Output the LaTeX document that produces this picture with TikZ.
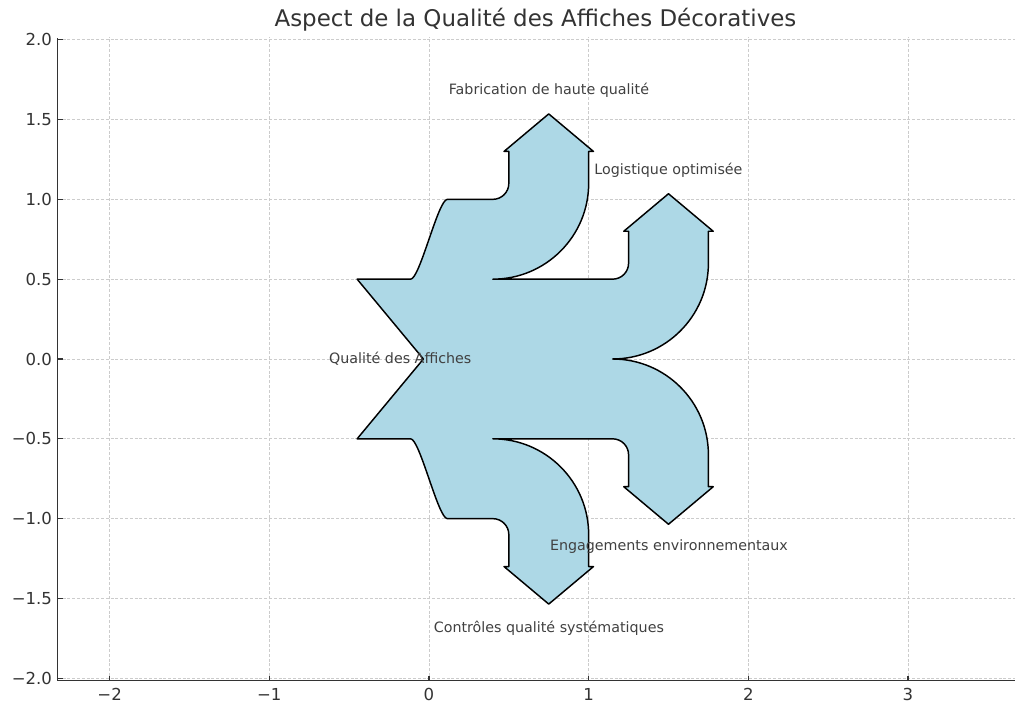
\documentclass[tikz,border=0pt]{standalone}
\usepackage{fontspec}
\setmainfont{DejaVu Sans}
\definecolor{flowfill}{HTML}{ADD8E6}
\definecolor{txtgray}{HTML}{404040}
\definecolor{tickgray}{HTML}{333333}
\definecolor{gridgray}{HTML}{CCCCCC}
\definecolor{spinegray}{HTML}{333333}
\tikzset{
  gridline/.style={draw=gridgray, line width=0.5pt, dash pattern=on 2.2pt off 1.4pt},
  spine/.style={draw=spinegray, line width=1pt},
  tickmark/.style={draw=spinegray, line width=0.8pt},
  ticklabel/.style={text=tickgray, font=\fontsize{12.4}{14}\selectfont, inner sep=0pt},
  flowlabel/.style={text=txtgray, font=\fontsize{10.7}{12}\selectfont, inner sep=0pt, anchor=center},
  titlelabel/.style={text=tickgray, font=\fontsize{17.2}{20}\selectfont, inner sep=0pt, anchor=base},
  flowshape/.style={fill=flowfill, draw=black, line width=1.1pt, line join=round}
}
\begin{document}
\begin{tikzpicture}[x=119.75pt, y=119.75pt]
\useasboundingbox (-2.6868,-2.2234) rectangle (3.7266,2.2484);
% grid
\foreach \gx in {-2,-1,0,1,2,3} {
  \draw[gridline] (\gx,-2.015) -- (\gx,2.015);
}
\foreach \gy in {-2,-1.5,-1,-0.5,0,0.5,1,1.5,2} {
  \draw[gridline] (-2.3246,\gy) -- (3.672,\gy);
}
% spines
\draw[spine] (-2.3246,2.01) -- (-2.3246,-2.015) -- (3.672,-2.015);
% ticks
\foreach \gx in {-2,-1,0,1,2,3} {
  \draw[tickmark] (\gx,-2.015) -- (\gx,-1.985);
}
\foreach \gy in {-2,-1.5,-1,-0.5,0,0.5,1,1.5,2} {
  \draw[tickmark] (-2.3246,\gy) -- (-2.2946,\gy);
}
% tick labels
\node[ticklabel, anchor=north] (xm2) at (-2,-2.06) {−2};
\node[ticklabel, anchor=north] (xm1) at (-1,-2.06) {−1};
\node[ticklabel, anchor=north] (x0) at (0,-2.06) {0};
\node[ticklabel, anchor=north] (x1) at (1,-2.06) {1};
\node[ticklabel, anchor=north] (x2) at (2,-2.06) {2};
\node[ticklabel, anchor=north] (x3) at (3,-2.06) {3};
\node[ticklabel, anchor=east] (y20) at (-2.36,2) {2.0};
\node[ticklabel, anchor=east] (y15) at (-2.36,1.5) {1.5};
\node[ticklabel, anchor=east] (y10) at (-2.36,1) {1.0};
\node[ticklabel, anchor=east] (y05) at (-2.36,0.5) {0.5};
\node[ticklabel, anchor=east] (y00) at (-2.36,0) {0.0};
\node[ticklabel, anchor=east] (ym05) at (-2.36,-0.5) {−0.5};
\node[ticklabel, anchor=east] (ym10) at (-2.36,-1) {−1.0};
\node[ticklabel, anchor=east] (ym15) at (-2.36,-1.5) {−1.5};
\node[ticklabel, anchor=east] (ym20) at (-2.36,-2) {−2.0};
% sankey shape
\draw[flowshape]
  (-0.45,0.5) -- (-0.115,0.5) .. controls (-0.0575,0.5) and (0.0575,1.0) .. (0.115,1.0)
  -- (0.4,1.0) arc[start angle=-90, end angle=0, radius=0.1]
  -- (0.5,1.3) -- (0.47,1.3) -- (0.75,1.535) -- (1.03,1.3) -- (1.0,1.3)
  -- (1.0,1.1) arc[start angle=0, end angle=-90, radius=0.6]
  -- (1.15,0.5) arc[start angle=-90, end angle=0, radius=0.1]
  -- (1.25,0.8) -- (1.22,0.8) -- (1.5,1.035) -- (1.78,0.8) -- (1.75,0.8)
  -- (1.75,0.6) arc[start angle=0, end angle=-90, radius=0.6]
  arc[start angle=90, end angle=0, radius=0.6]
  -- (1.75,-0.8) -- (1.78,-0.8) -- (1.5,-1.035) -- (1.22,-0.8) -- (1.25,-0.8)
  -- (1.25,-0.6) arc[start angle=0, end angle=90, radius=0.1]
  -- (0.4,-0.5) arc[start angle=90, end angle=0, radius=0.6]
  -- (1.0,-1.3) -- (1.03,-1.3) -- (0.75,-1.535) -- (0.47,-1.3) -- (0.5,-1.3)
  -- (0.5,-1.1) arc[start angle=0, end angle=90, radius=0.1]
  -- (0.115,-1.0) .. controls (0.0575,-1.0) and (-0.0575,-0.5) .. (-0.115,-0.5)
  -- (-0.45,-0.5) -- (-0.035,0) -- cycle;
% labels
\node[flowlabel] (lqual) at (-0.18,0) {Qualité des Affiches};
\node[flowlabel] (lfab) at (0.751,1.685) {Fabrication de haute qualité};
\node[flowlabel] (llog) at (1.5,1.183) {Logistique optimisée};
\node[flowlabel] (leng) at (1.503,-1.177) {Engagements environnementaux};
\node[flowlabel] (lctrl) at (0.751,-1.684) {Contrôles qualité systématiques};
% title
\node[titlelabel] (title) at (0.667,2.085) {Aspect de la Qualité des Affiches Décoratives};
\end{tikzpicture}
\end{document}
